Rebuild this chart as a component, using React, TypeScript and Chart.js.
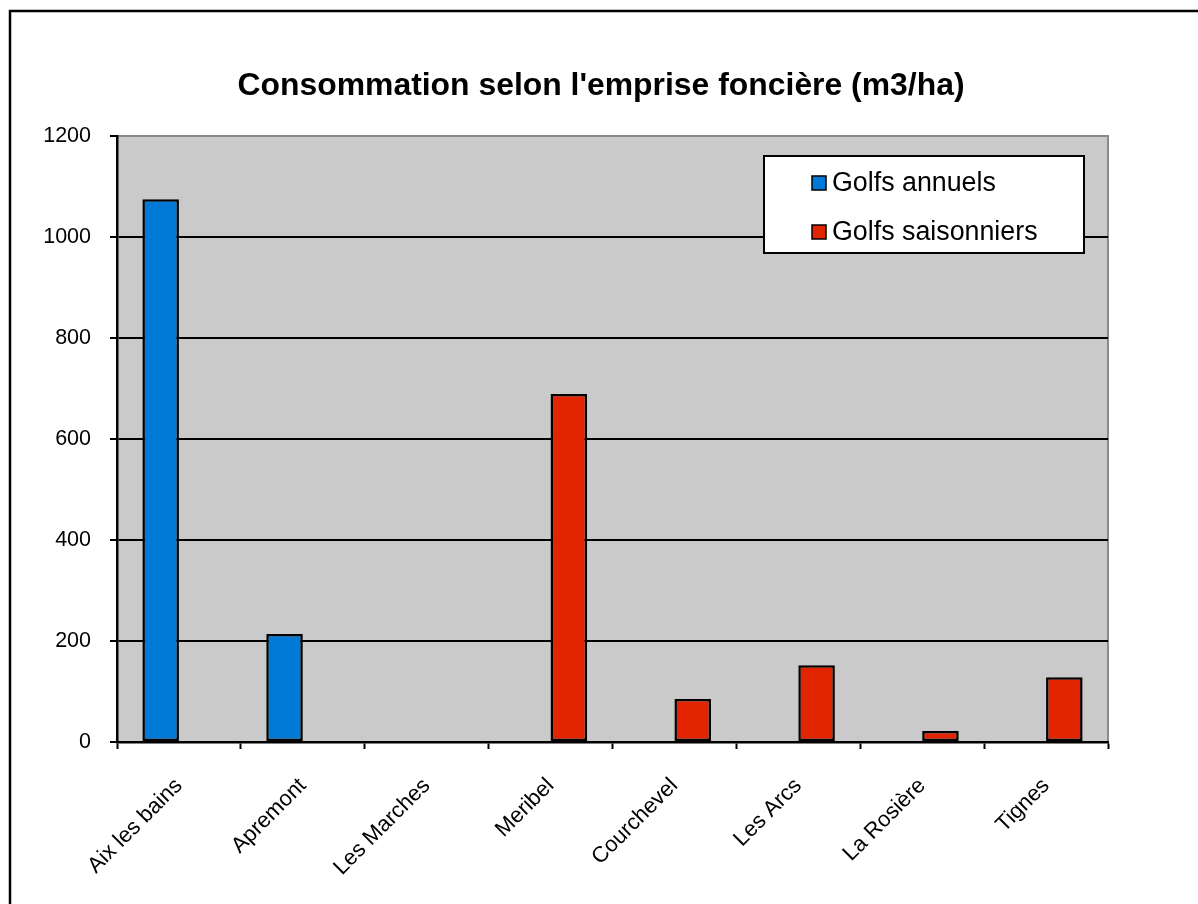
import React, { useEffect, useRef } from "react";
import { Chart, registerables } from "chart.js";

Chart.register(...registerables);

const TITLE = "Consommation selon l'emprise foncière (m3/ha)";
const categories = [
  "Aix les bains",
  "Apremont",
  "Les Marches",
  "Meribel",
  "Courchevel",
  "Les Arcs",
  "La Rosière",
  "Tignes",
];
const annualLabel = "Golfs annuels";
const seasonalLabel = "Golfs saisonniers";
const annualValues = [1075, 214, null, null, null, null, null, null];
const seasonalValues = [null, null, null, 689, 85, 152, 22, 128];
const yTicks = [0, 200, 400, 600, 800, 1000, 1200];

const FONT = 'Arial, "Liberation Sans", sans-serif';
const BLUE = "#007ad6";
const RED = "#e32400";
const PLOT_BG = "#cacaca";

const decorPlugin = {
  id: "decor",
  beforeDraw(chart: any) {
    const { ctx, chartArea: a } = chart;
    ctx.save();
    ctx.fillStyle = "#ffffff";
    ctx.fillRect(0, 0, chart.width, chart.height);
    // outer frame
    ctx.strokeStyle = "#000";
    ctx.lineWidth = 2.5;
    ctx.beginPath();
    ctx.moveTo(10, chart.height + 5);
    ctx.lineTo(10, 11);
    ctx.lineTo(chart.width + 5, 11);
    ctx.stroke();
    // plot area
    ctx.fillStyle = PLOT_BG;
    ctx.fillRect(a.left, a.top, a.right - a.left, a.bottom - a.top);
    ctx.strokeStyle = "#8a8a8a";
    ctx.lineWidth = 2;
    ctx.beginPath();
    ctx.moveTo(a.left, a.top);
    ctx.lineTo(a.right, a.top);
    ctx.lineTo(a.right, a.bottom);
    ctx.stroke();
    // title
    ctx.fillStyle = "#000";
    ctx.font = "bold 31.9px " + FONT;
    ctx.textAlign = "center";
    ctx.textBaseline = "alphabetic";
    ctx.fillText(TITLE, 601, 95);
    ctx.restore();
  },
  afterDraw(chart: any) {
    const { ctx } = chart;
    ctx.save();
    const bx = 764, by = 156, bw = 320, bh = 97;
    ctx.fillStyle = "#fff";
    ctx.fillRect(bx, by, bw, bh);
    ctx.strokeStyle = "#000";
    ctx.lineWidth = 2;
    ctx.strokeRect(bx, by, bw, bh);
    const items = chart.data.datasets.map((d: any) => ({ label: d.label, color: d.backgroundColor }));
    const rows = [184, 233];
    items.forEach((it: any, i: number) => {
      const y = rows[i];
      ctx.fillStyle = it.color;
      ctx.fillRect(812, y - 8, 14, 14);
      ctx.lineWidth = 1.5;
      ctx.strokeStyle = "#000";
      ctx.strokeRect(812, y - 8, 14, 14);
      ctx.fillStyle = "#000";
      ctx.font = "26.8px " + FONT;
      ctx.textAlign = "left";
      ctx.textBaseline = "middle";
      ctx.fillText(it.label, 832, y);
    });
    ctx.restore();
  },
};

export default function App() {
  const ref = useRef<HTMLCanvasElement | null>(null);
  useEffect(() => {
    document.body.style.margin = "0";
    const canvas = ref.current!;
    const chart = new Chart(canvas, {
      type: "bar",
      data: {
        labels: categories,
        datasets: [
          {
            label: annualLabel,
            data: annualValues,
            backgroundColor: BLUE,
            borderColor: "#000",
            borderWidth: 2.5,
            borderSkipped: false,
            categoryPercentage: 0.59,
            barPercentage: 1,
          },
          {
            label: seasonalLabel,
            data: seasonalValues,
            backgroundColor: RED,
            borderColor: "#000",
            borderWidth: 2.5,
            borderSkipped: false,
            categoryPercentage: 0.59,
            barPercentage: 1,
          },
        ],
      },
      options: {
        animation: false,
        responsive: false,
        devicePixelRatio: 1,
        layout: { padding: { left: 0, top: 136, right: 90, bottom: 0 } },
        plugins: {
          legend: { display: false },
          title: { display: false },
          tooltip: { enabled: false },
        },
        scales: {
          x: {
            afterFit(scale: any) {
              scale.height = 162;
            },
            grid: {
              offset: true,
              drawOnChartArea: false,
              drawTicks: true,
              tickLength: 7,
              tickColor: "#000",
              tickWidth: 2,
              color: "#000",
            },
            border: { display: true, color: "#000", width: 2.5 },
            ticks: {
              color: "#000",
              font: { family: FONT, size: 22 },
              minRotation: 45,
              maxRotation: 45,
              padding: 24,
              autoSkip: false,
            },
          },
          y: {
            min: 0,
            max: 1200,
            afterFit(scale: any) {
              scale.width = 117;
            },
            afterBuildTicks(scale: any) {
              scale.ticks = yTicks.map((v) => ({ value: v }));
            },
            grid: {
              color: (c: any) => (c.tick && c.tick.value === 1200 ? "#8a8a8a" : "#000"),
              lineWidth: 2,
              tickLength: 7,
              tickColor: "#000",
              tickWidth: 2,
            },
            border: { display: true, color: "#000", width: 2.5 },
            ticks: {
              color: "#000",
              font: { family: FONT, size: 21.5 },
              padding: 19,
              callback: (v: any) => String(v),
            },
          },
        },
      },
      plugins: [decorPlugin],
    });
    return () => chart.destroy();
  }, []);
  return <canvas ref={ref} width={1198} height={904} style={{ display: "block" }} />;
}
